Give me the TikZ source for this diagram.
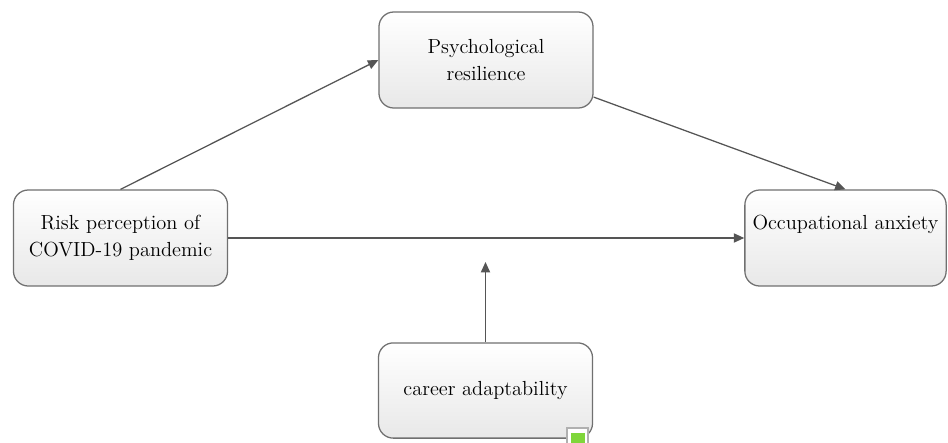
\documentclass[tikz,border=0pt]{standalone}
\usepackage{xcolor}
\usepackage{tikz}
\usetikzlibrary{arrows.meta}

\definecolor{boxline}{HTML}{707070}
\definecolor{arrline}{HTML}{555555}
\definecolor{tagline}{HTML}{B0B0B0}
\definecolor{taggreen}{HTML}{7FD63A}

\begin{document}
\begin{tikzpicture}[x=0.025cm,y=-0.025cm,
                box/.style={draw=boxline,line width=0.9pt,rounded corners=0.37cm,
                    top color=white,bottom color=black!9,
                    align=center,font=\fontsize{14.5}{19}\selectfont,
                    minimum width=5.35cm,minimum height=2.4cm,inner sep=0pt},
                link/.style={draw=arrline,line width=0.9pt,-{Triangle[length=2.6mm,width=2.3mm]}}]
                \useasboundingbox (0,0) rectangle (948,442);
                \node[box] (psych) at (486,60) {Psychological\\resilience};
                \node[box] (risk) at (120.5,238) {Risk perception of\\COVID-19 pandemic};
                \node[box,minimum width=5.03cm,
                    label={[font=\fontsize{14.5}{19}\selectfont,yshift=-0.87cm,anchor=center]north:Occupational anxiety}]
                    (occ) at (845.5,238) {};
                \node[box,minimum height=2.38cm] (career) at (485.5,390.5) {career adaptability};
                \coordinate (mod) at (485.5,262);
                \draw[link] (risk.north) -- (psych.west);
                \draw[link] (psych.-19) -- (occ.north);
                \draw[link] (risk.east) -- (occ.west);
                \draw[link] (career.north) -- (mod);
                % small marker at the corner of the lower box
                \filldraw[draw=tagline,fill=white,line width=0.8pt] (567,428) rectangle (588,446);
                \fill[taggreen] (570.5,432.5) rectangle (584.5,446);
            \end{tikzpicture}
\end{document}
